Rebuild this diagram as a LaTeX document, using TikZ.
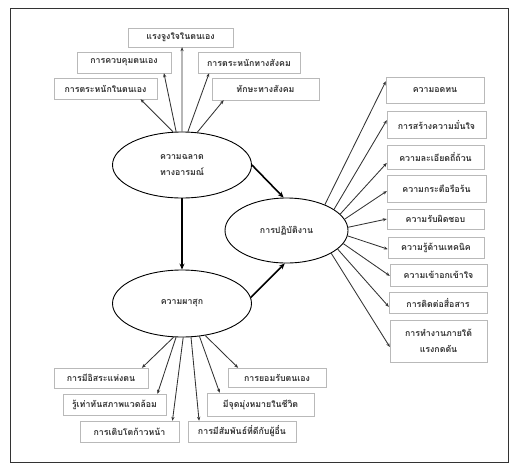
\documentclass[tikz,border=0pt]{standalone}
\usepackage{fontspec}
\newfontfamily\thaifont[Script=Thai]{Loma}
\usetikzlibrary{shapes.geometric,shadows,arrows.meta}

\begin{document}
\begin{tikzpicture}[x=1pt,y=-1pt,
    trait/.style={draw=gray!55,fill=white,
      drop shadow={shadow xshift=0.7pt,shadow yshift=-0.7pt,fill=gray!75,opacity=1},
      font=\thaifont\bfseries\fontsize{8.8}{16}\selectfont,text=black!80,
      align=center,inner sep=1pt},
    factor/.style={ellipse,draw=black,line width=0.9pt,
      font=\thaifont\bfseries\fontsize{8.8}{16}\selectfont,text=black!80,
      align=center,inner sep=0pt},
    link/.style={draw=black!80,line width=0.85pt,-{Stealth[length=4pt,width=3.2pt]}},
    mainlink/.style={draw=black,line width=1.6pt,-{Stealth[length=6pt,width=5pt]}}]
  \useasboundingbox (0,0) rectangle (519,472);
  \draw[line width=1pt,black!80] (10,8) rectangle (508,462);

  % latent factors
  \node[factor,minimum width=139pt,minimum height=66pt] (eq) at (182,165) {ความฉลาด\\ทางอารมณ์};
  \node[factor,minimum width=139pt,minimum height=67pt] (happy) at (182,303.5) {ความผาสุก};
  \node[factor,minimum width=123pt,minimum height=65pt] (perf) at (286.5,230.5) {การปฏิบัติงาน};

  % indicators of eq
  \node[trait,minimum width=105pt,minimum height=19pt] (motiv) at (180.5,37.5) {แรงจูงใจในตนเอง};
  \node[trait,minimum width=94pt,minimum height=21pt] (control) at (124,62.5) {การควบคุมตนเอง};
  \node[trait,minimum width=103pt,minimum height=21pt] (selfaware) at (105.5,88.5) {การตระหนักในตนเอง};
  \node[trait,minimum width=102pt,minimum height=21pt] (socaware) at (249,62.5) {การตระหนักทางสังคม};
  \node[trait,minimum width=107pt,minimum height=22pt] (socskill) at (265.5,89) {ทักษะทางสังคม};

  % indicators of perf
  \node[trait,minimum width=98pt,minimum height=26pt] (r1) at (435,90) {ความอดทน};
  \node[trait,minimum width=99pt,minimum height=27pt] (r2) at (436.5,124.5) {การสร้างความมั่นใจ};
  \node[trait,minimum width=97pt,minimum height=24pt] (r3) at (435.5,157) {ความละเอียดถี่ถ้วน};
  \node[trait,minimum width=99pt,minimum height=27pt] (r4) at (436.5,188.5) {ความกระตือรือร้น};
  \node[trait,minimum width=97pt,minimum height=20pt] (r5) at (435.5,219) {ความรับผิดชอบ};
  \node[trait,minimum width=96pt,minimum height=21pt] (r6) at (436,247.5) {ความรู้ด้านเทคนิค};
  \node[trait,minimum width=97pt,minimum height=22pt] (r7) at (438.5,275) {ความเข้าอกเข้าใจ};
  \node[trait,minimum width=98pt,minimum height=21pt] (r8) at (438,302.5) {การติดต่อสื่อสาร};
  \node[trait,minimum width=97pt,minimum height=42pt] (r9) at (438.5,341) {การทำงานภายใต้\\แรงกดดัน};

  % indicators of happy
  \node[trait,minimum width=94pt,minimum height=20pt] (b1) at (101,378) {การมีอิสระแห่งตน};
  \node[trait,minimum width=103pt,minimum height=21pt] (b2) at (114.5,404.5) {รู้เท่าทันสภาพแวดล้อม};
  \node[trait,minimum width=99pt,minimum height=21pt] (b3) at (129.5,431.5) {การเติบโตก้าวหน้า};
  \node[trait,minimum width=108pt,minimum height=21pt] (b4) at (242,431.5) {การมีสัมพันธ์ที่ดีกับผู้อื่น};
  \node[trait,minimum width=107pt,minimum height=23pt] (b5) at (260.5,404.5) {มีจุดมุ่งหมายในชีวิต};
  \node[trait,minimum width=98pt,minimum height=19pt] (b6) at (277,377.5) {การยอมรับตนเอง};

  % structural paths
  \draw[mainlink] (eq.east) -- (perf.95);
  \draw[mainlink] (eq.south) -- (happy.north);
  \draw[mainlink] (happy.5) -- (perf.-93);

  % loadings
  \draw[link] (eq.105) -- (selfaware.-17);
  \draw[link] (eq.100) -- (control.-15);
  \draw[link] (eq.90) -- (motiv.-81);
  \draw[link] (eq.80) -- (socaware.195);
  \draw[link] (eq.65) -- (socskill.195);

  \draw[link] (perf.34) -- (r1.170);
  \draw[link] (perf.24) -- (r2.175);
  \draw[link] (perf.17) -- (r3.187);
  \draw[link] (perf.11) -- (r4.183);
  \draw[link] (perf.3) -- (r5.west);
  \draw[link] (perf.-5) -- (r6.182);
  \draw[link] (perf.-13) -- (r7.181);
  \draw[link] (perf.-20) -- (r8.185);
  \draw[link] (perf.-27) -- (r9.187);

  \draw[link] (happy.-104) -- (b1.14);
  \draw[link] (happy.-100) -- (b2.14);
  \draw[link] (happy.-88) -- (b3.14);
  \draw[link] (happy.-75) -- (b4.166);
  \draw[link] (happy.-62) -- (b5.164);
  \draw[link] (happy.-54) -- (b6.166);
\end{tikzpicture}
\end{document}
